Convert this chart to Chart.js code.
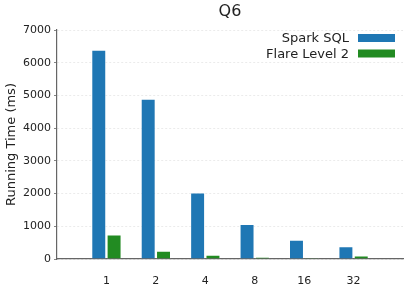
<!DOCTYPE html>
<html lang="en">
<head>
  <meta charset="UTF-8">
  <title>Q6</title>
  <script src="https://cdn.jsdelivr.net/npm/chart.js"></script>
  <style>
    html, body { margin: 0; padding: 0; background: #fff; }
    #wrap { width: 407px; height: 305px; }
  </style>
</head>
<body>
  <div id="wrap"><canvas id="chart" width="407" height="305"></canvas></div>
  <script>
    // Values
    const categories = ['1', '2', '4', '8', '16', '32'];
    const sparkSql = [6390, 4890, 2030, 1060, 580, 380];
    const flareLevel2 = [740, 245, 120, 60, 40, 100];
    const yTicks = [0, 1000, 2000, 3000, 4000, 5000, 6000, 7000];
    const chartTitle = 'Q6';

    const FONT = 'DejaVu Sans';
    const INK = '#222';

    // title centred over the plot area, legend top-right with text left of the box
    const decorations = {
      id: 'decorations',
      afterDraw(chart) {
        const ctx = chart.ctx;
        const area = chart.chartArea;
        ctx.save();
        ctx.fillStyle = INK;
        ctx.font = '16px "' + FONT + '"';
        ctx.textAlign = 'center';
        ctx.textBaseline = 'middle';
        ctx.fillText(chartTitle, (area.left + area.right) / 2, 12);

        ctx.font = '13px "' + FONT + '"';
        ctx.textAlign = 'right';
        chart.data.datasets.forEach((ds, i) => {
          const y = area.top + 8 + i * 15.5;
          ctx.fillStyle = INK;
          ctx.fillText(ds.label, area.right - 54, y + 1);
          ctx.fillStyle = ds.backgroundColor;
          ctx.fillRect(area.right - 45, y - 4, 37, 8);
        });
        ctx.restore();
      }
    };

    new Chart(document.getElementById('chart'), {
      type: 'bar',
      data: {
        datasets: [{
          label: 'Spark SQL',
          data: sparkSql.map((v, i) => ({ x: i, y: v })),
          backgroundColor: '#1f77b4',
          borderColor: 'rgba(255,255,255,0.4)',
          borderWidth: 0.8
        }, {
          label: 'Flare Level 2',
          data: flareLevel2.map((v, i) => ({ x: i, y: v })),
          backgroundColor: '#228b22',
          borderColor: 'rgba(255,255,255,0.4)',
          borderWidth: 0.8
        }]
      },
      options: {
        responsive: false,
        animation: false,
        categoryPercentage: 0.62,
        barPercentage: 0.95,
        layout: { padding: { left: 0, right: 4, top: 30, bottom: 0 } },
        plugins: {
          legend: { display: false },
          tooltip: { enabled: false },
          title: { display: false }
        },
        scales: {
          x: {
            type: 'linear',
            offset: false,
            min: -1,
            max: categories.length,
            afterFit(scale) { scale.height = 46; },
            afterBuildTicks(scale) {
              scale.ticks = categories.map((c, i) => ({ value: i }));
            },
            ticks: {
              color: INK,
              font: { family: FONT, size: 11 },
              padding: 8,
              maxRotation: 0,
              callback: (v) => categories[v]
            },
            grid: { display: false },
            border: { display: true, color: '#666', width: 1.2 }
          },
          y: {
            min: 0,
            max: 7000,
            afterFit(scale) { scale.width = 57; },
            afterBuildTicks(scale) {
              scale.ticks = yTicks.map(v => ({ value: v }));
            },
            ticks: {
              color: INK,
              font: { family: FONT, size: 11 },
              padding: 3,
              callback: (v) => String(v)
            },
            title: {
              display: true,
              text: 'Running Time (ms)',
              color: INK,
              font: { family: FONT, size: 13 },
              padding: { top: 4, bottom: 0 }
            },
            grid: {
              color: '#e6e6e6',
              lineWidth: 0.8,
              tickColor: '#666',
              tickLength: 3,
              tickBorderDash: []
            },
            border: { display: true, color: '#666', width: 1.2, dash: [2, 2] }
          }
        }
      },
      plugins: [decorations]
    });
  </script>
</body>
</html>
